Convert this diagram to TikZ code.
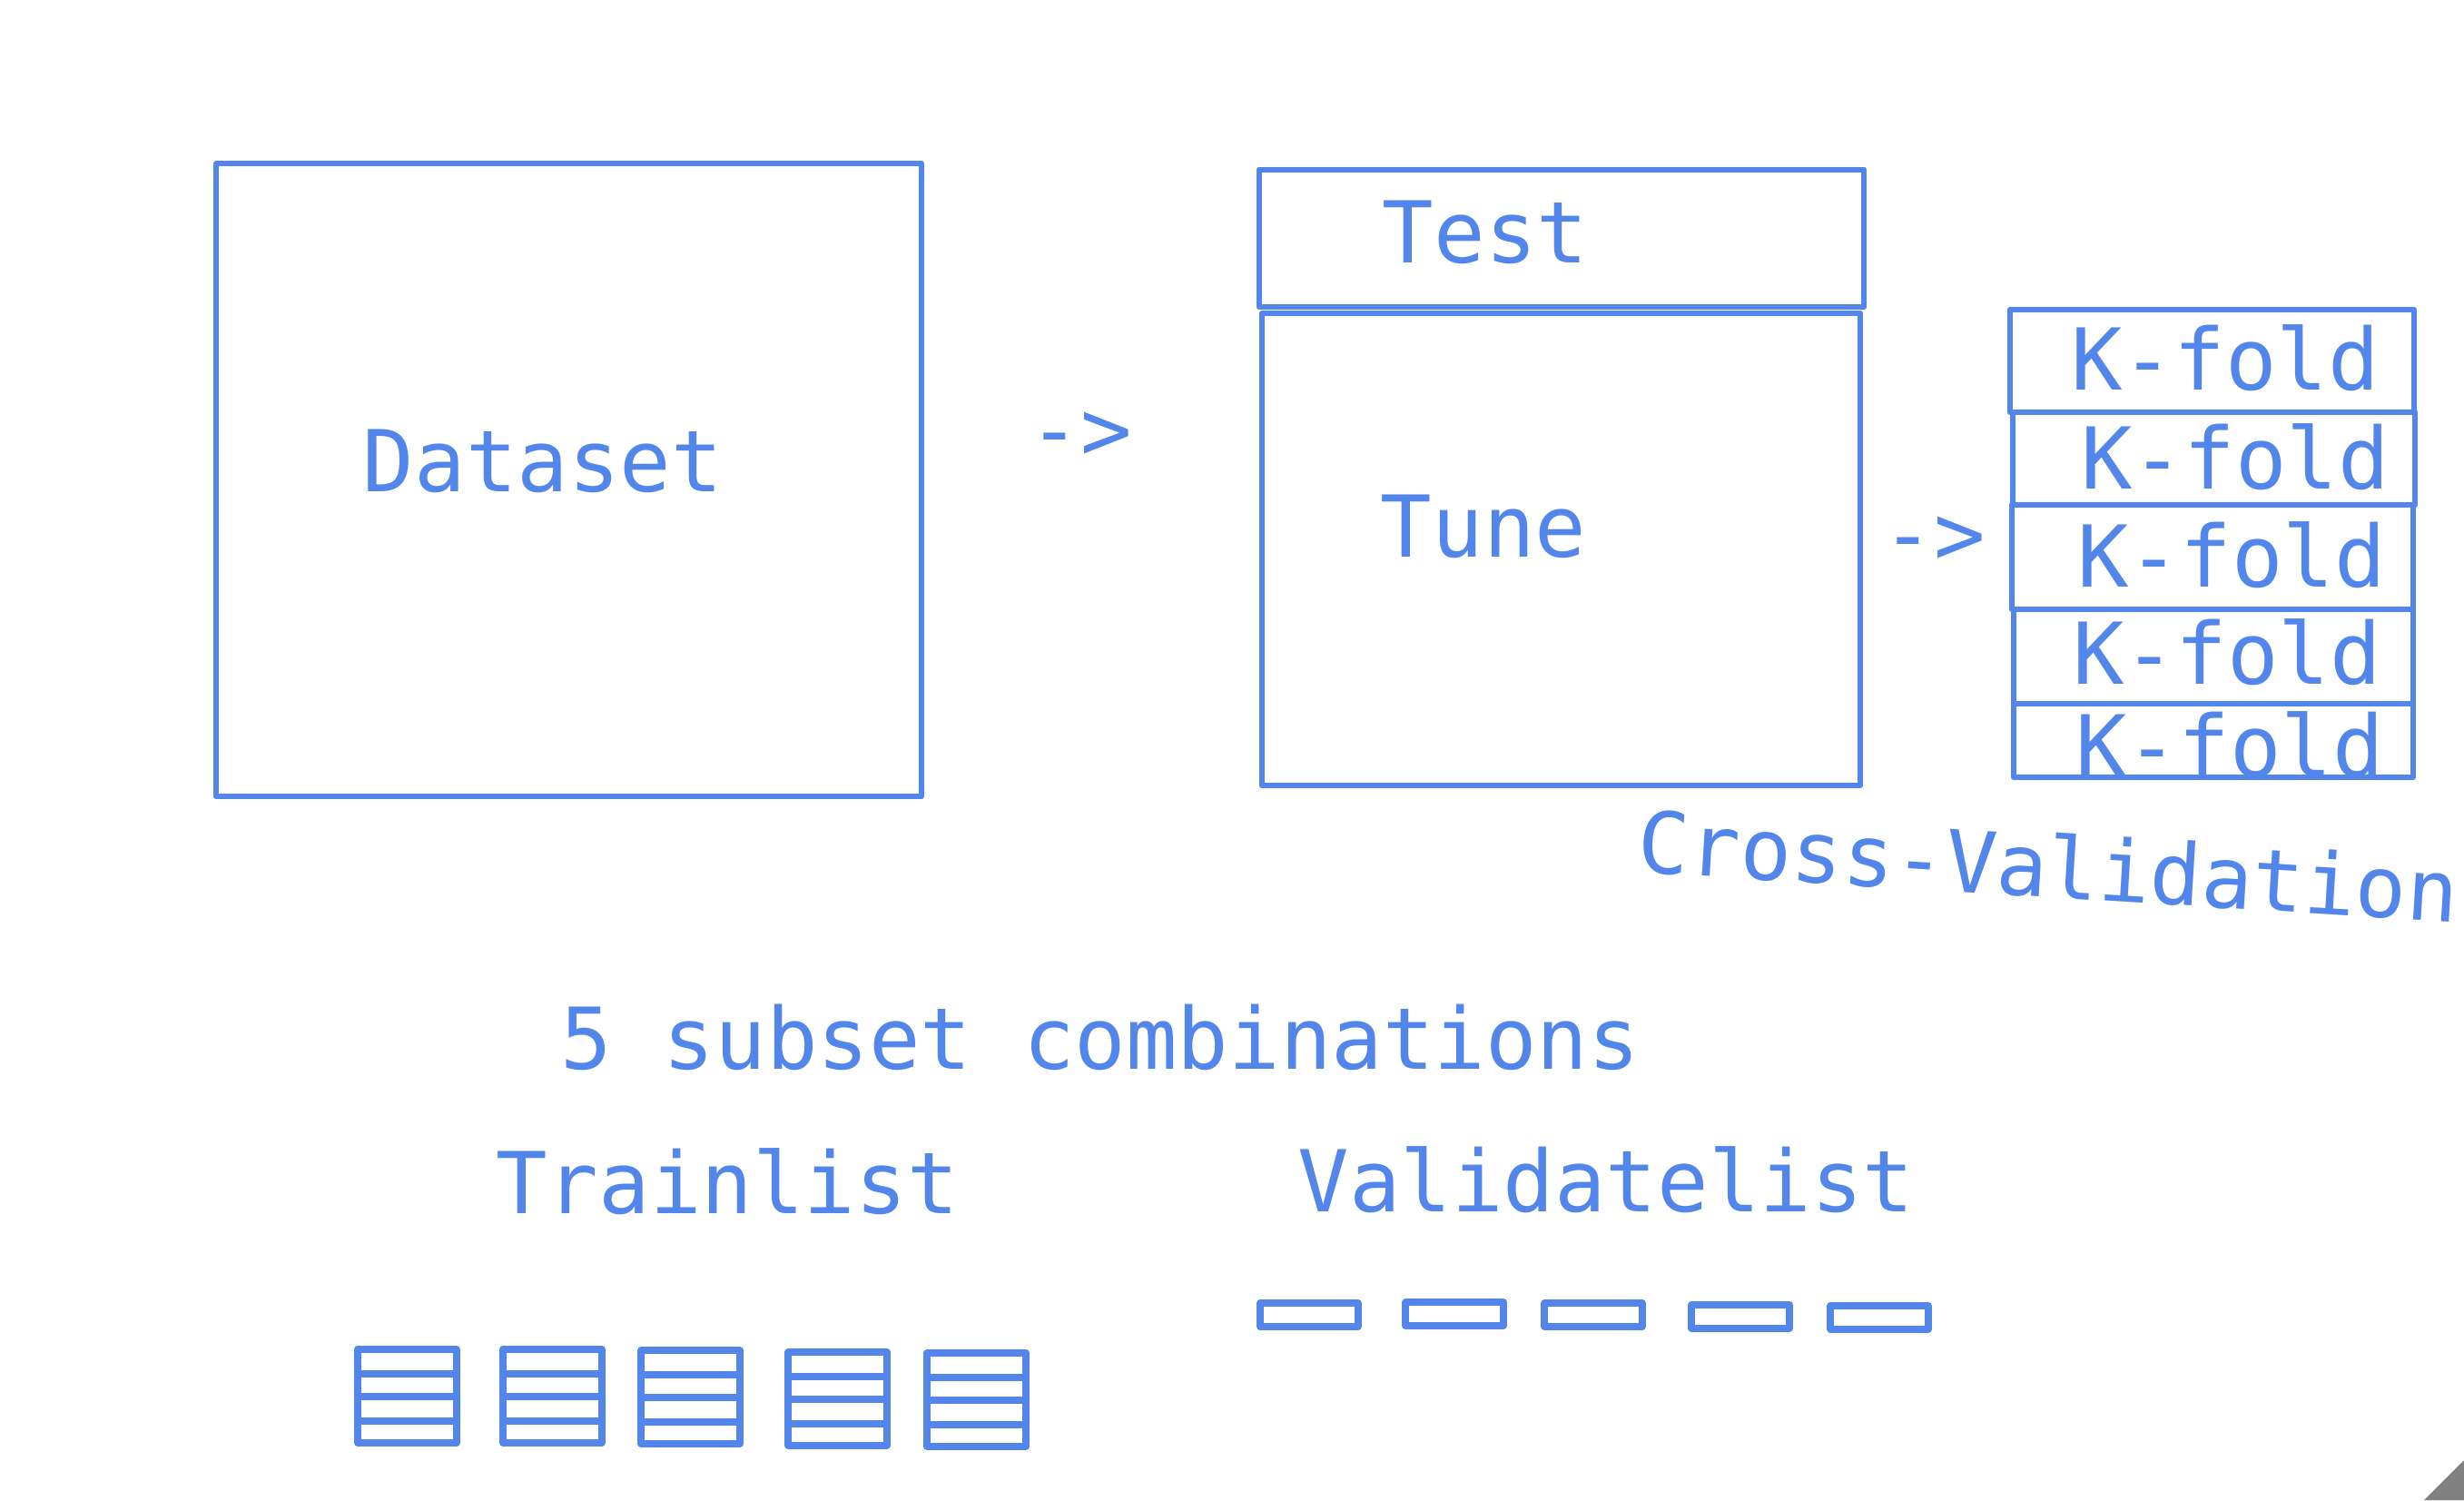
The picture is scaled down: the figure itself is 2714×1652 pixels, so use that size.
\documentclass[tikz,border=0pt]{standalone}
\usepackage{fontspec}
\setmonofont{DejaVu Sans Mono}
\definecolor{cvblue}{RGB}{83,134,235}
\definecolor{cornergray}{RGB}{128,128,128}
\tikzset{
  boxline/.style={draw=cvblue, line width=6.5pt, line join=round},
  iconline/.style={draw=cvblue, line width=7.3pt, line join=round},
  lbl/.style={text=cvblue, inner sep=0pt, anchor=base, font=\ttfamily\fontsize{94}{110}\selectfont},
  arrowlbl/.style={text=cvblue, inner sep=0pt, anchor=north, font=\ttfamily\fontsize{94}{110}\selectfont}
}
\begin{document}
\begin{tikzpicture}[x=1pt,y=-1pt]
\useasboundingbox (0,0) rectangle (2714,1652);
\fill[white] (0,0) rectangle (2714,1652);

% Dataset
\draw[boxline] (238,180) rectangle (1015,877);
\node[lbl] (dataset) at (598,541) {Dataset};
\node[arrowlbl] (arrow1) at (1190,454) {->};

% Test / Tune
\draw[boxline] (1387,187) rectangle (2053,338);
\draw[boxline] (1390,345) rectangle (2049,865);
\node[lbl] (test) at (1636,289) {Test};
\node[lbl] (tune) at (1634,613) {Tune};
\node[arrowlbl] (arrow2) at (2130,569) {->};

% K-fold stack
\draw[boxline] (2214,341) rectangle (2659,454);
\draw[boxline] (2217,454) rectangle (2660,556);
\draw[boxline] (2216,556) rectangle (2658,671);
\draw[boxline] (2218,671) rectangle (2658,775);
\draw[boxline] (2218,775) rectangle (2658,856);
\node[lbl] (k1) at (2451,429) {K-fold};
\node[lbl] (k2) at (2462,538) {K-fold};
\node[lbl] (k3) at (2458,646) {K-fold};
\node[lbl] (k4) at (2453,753) {K-fold};
\node[lbl] (k5) at (2456,855) {K-fold};

\node[lbl, rotate=-3.5] (cv) at (2254,988) {Cross-Validation};

% lower texts
\node[lbl] (combos) at (1212,1177) {5 subset combinations};
\node[lbl] (train) at (801,1336) {Trainlist};
\node[lbl] (valid) at (1769,1334) {Validatelist};

% Trainlist icons
\foreach \x/\y in {394/1486, 554/1486, 706/1487, 868/1489, 1021/1490}{
  \draw[iconline] (\x,\y) rectangle ++(109,103);
  \draw[iconline] (\x,\y+27) -- ++(109,0);
  \draw[iconline] (\x,\y+52) -- ++(109,0);
  \draw[iconline] (\x,\y+79) -- ++(109,0);
}

% Validatelist icons
\foreach \x/\y in {1388/1435, 1548/1434, 1701/1435, 1863/1437, 2016/1438}{
  \draw[iconline] (\x,\y) rectangle ++(108,26);
}

% corner triangle
\fill[cornergray] (2670,1652) -- (2714,1608) -- (2714,1652) -- cycle;
\end{tikzpicture}
\end{document}
